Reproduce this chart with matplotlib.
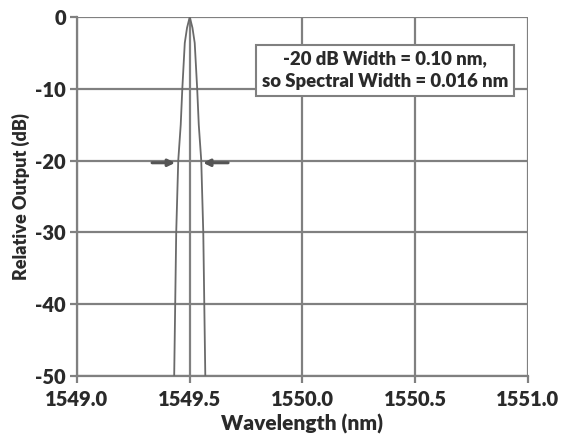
import matplotlib.pyplot as plt

# spectrum (nm, dB)
wavelength = [1549.431, 1549.440, 1549.449, 1549.460, 1549.467, 1549.478, 1549.488,
              1549.500,
              1549.512, 1549.522, 1549.533, 1549.540, 1549.551, 1549.560, 1549.569]
rel_output = [-50, -30, -20, -15, -10, -3.6, -1.5,
              0,
              -1.5, -3.6, -10, -15, -20, -30, -50]

x_ticks = [1549.0, 1549.5, 1550.0, 1550.5, 1551.0]
y_ticks = [0, -10, -20, -30, -40, -50]
note = "-20 dB Width = 0.10 nm,\nso Spectral Width = 0.016 nm"

plt.rcParams['font.family'] = ['Lato', 'DejaVu Sans']
W = 'heavy'

txt = '#2a2a2a'
grid = '#808080'

fig = plt.figure(figsize=(5.62, 4.37), dpi=100)
ax = fig.add_axes([0.137, 0.1396, 0.8025, 0.8214])

ax.plot(wavelength, rel_output, color='#6a6a6a', lw=1.3, zorder=3)

ax.set_xlim(1549.0, 1551.0)
ax.set_ylim(-50, 0)
ax.set_xticks(x_ticks)
ax.set_xticklabels(['%.1f' % v for v in x_ticks], fontweight=W)
ax.set_yticks(y_ticks)
ax.set_yticklabels([str(v) for v in y_ticks], fontweight=W)

ax.grid(True, color=grid, lw=1.6)
for s in ['top', 'right']:
    ax.spines[s].set_visible(False)
for s in ['left', 'bottom']:
    ax.spines[s].set_color(grid)
    ax.spines[s].set_linewidth(1.6)
ax.tick_params(direction='out', length=5, width=1.6, color=grid,
               labelsize=14.5, labelcolor=txt, pad=3)
ax.tick_params(axis='x', pad=5)

ax.set_xlabel('Wavelength (nm)', fontsize=15, color=txt, fontweight=W, labelpad=4)
ax.set_ylabel('Relative Output (dB)', fontsize=13, color=txt, fontweight=W, labelpad=4)

# -20 dB width arrows
arrow = dict(arrowstyle='-|>', color='#555555', lw=2.2, mutation_scale=10,
             shrinkA=0, shrinkB=0)
ax.annotate('', xy=(1549.435, -20.3), xytext=(1549.333, -20.3), arrowprops=arrow)
ax.annotate('', xy=(1549.559, -20.3), xytext=(1549.670, -20.3), arrowprops=arrow)

ax.text(1550.366, -7.4, note, ha='center', va='center', fontsize=13.3,
        color=txt, fontweight=W, linespacing=1.4, zorder=5,
        bbox=dict(boxstyle='square,pad=0.3', fc='white', ec=grid, lw=1.5))

fig.savefig('out.png', dpi=100)
